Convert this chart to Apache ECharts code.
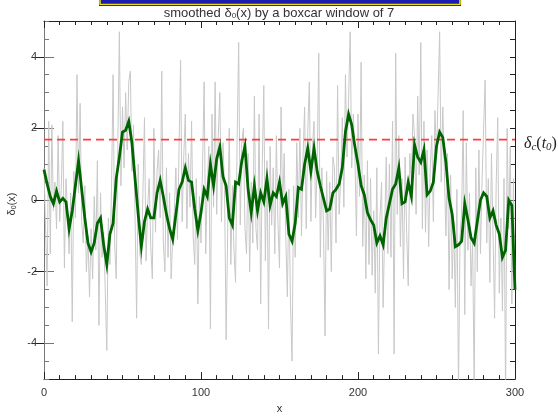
<!DOCTYPE html>
<html><head><meta charset="utf-8">
<script src="https://cdn.jsdelivr.net/npm/echarts@6/dist/echarts.min.js"></script>
<style>html,body{margin:0;padding:0;background:#fff}#c{width:558px;height:419px}</style>
</head><body><div id="c"></div>
<script>
// raw delta_0(x), x = 0..300
const rawY = [
 0.9,-0.8,-2.4,2.2,-1.5,2.1,-0.3,0.5,-0.8,1.8,
 -0.6,0.3,2.2,-1.9,0.6,-0.4,-1.5,0.2,-3.4,0.8,
 -0.5,3.5,0.2,2.7,-0.6,-1.2,0.4,-2.0,-1.0,-2.7,
 -0.8,-2.2,0.1,-1.4,1.1,-3.5,0.2,-1.6,-0.9,-2.5,
 -4.2,-0.5,-1.8,0.3,3.5,-1.2,-2.2,1.5,4.7,0.4,
 2.6,0.9,3.0,1.4,3.3,3.6,0.8,2.1,-0.5,-3.3,
 1.0,-1.5,-1.8,0.2,2.3,-1.7,-0.2,0.6,-1.3,-2.2,
 2.0,-0.9,0.8,1.4,-0.5,3.6,-1.2,-2.0,0.9,-1.6,
 0.2,-2.2,-1.0,-0.3,0.9,-1.1,1.4,3.9,-0.6,1.2,
 2.4,-0.8,1.3,-0.2,2.2,-1.0,-1.8,0.6,-2.9,0.1,
 -1.2,1.0,3.3,-1.5,0.4,1.5,-3.6,2.4,-0.2,3.3,
 -0.4,1.8,3.0,-0.6,1.6,0.3,-3.9,-0.9,2.0,-1.8,
 0.4,-1.4,-2.3,1.7,4.4,-0.7,1.6,2.0,-0.8,-1.5,
 1.3,-2.0,0.5,-1.2,2.9,-0.8,-1.4,2.4,-2.9,0.9,
 3.2,-1.7,1.1,-3.6,1.5,-0.7,0.9,-1.5,1.8,-0.6,
 -1.9,2.6,-0.2,1.3,-1.0,-2.7,0.3,-2.9,-4.5,0.4,
 -1.6,1.6,-0.5,2.0,-1.0,1.2,2.6,-0.8,1.9,3.3,
 -0.6,1.5,2.2,-0.5,1.0,4.1,-1.6,0.9,-0.7,-3.8,
 0.8,-1.4,0.5,-2.0,1.2,0.9,-1.2,3.2,-0.4,0.6,
 2.3,-0.2,3.5,1.2,2.8,4.7,0.9,2.4,1.3,-1.0,
 2.4,0.1,3.85,-1.3,0.7,-2.2,1.1,-1.8,0.6,-2.1,
 -0.3,-2.6,0.9,-4.3,-0.5,0.5,-3.0,-0.8,1.2,-1.5,
 1.0,-1.6,2.2,-4.3,4.1,-0.4,1.8,-1.3,0.6,-2.2,
 1.2,-0.9,-2.4,1.3,0.5,2.4,1.8,-0.4,2.9,0.7,
 4.4,-0.8,2.2,-0.9,1.4,-1.3,0.9,1.8,-0.6,2.5,
 1.2,2.9,4.7,0.5,2.6,0.8,-1.0,1.3,-2.5,0.7,
 -2.2,-0.6,-3.0,0.3,-5.4,-1.0,-0.4,2.5,-3.2,1.6,
 -1.4,0.2,-2.4,-1.1,-5.3,0.9,-2.0,1.4,-1.5,0.5,
 2.0,3.35,-1.2,0.6,-2.3,1.3,-0.9,-3.3,0.4,2.3,
 -2.6,-0.5,-3.1,0.6,-5.5,2.0,-0.8,1.5,-2.9,0.6,
 -2.5
];
// smoothed values, x = 0,2,4,...,300
const smoothY = [
 0.85,0.45,0.1,-0.1,0.25,-0.05,0.05,-0.05,-0.8,-0.3,
 0.4,1.1,0.3,-0.5,-1.2,-1.45,-1.2,-0.65,-0.5,-1.25,
 -1.8,-0.95,-0.65,0.6,1.2,1.9,1.95,2.2,1.6,0.6,
 -0.4,-1.3,-0.6,-0.25,-0.5,-0.5,0.2,0.55,0.1,-0.4,
 -0.8,-1.1,-0.4,0.3,0.5,0.9,0.55,0.5,-0.25,-0.85,
 -0.35,0.3,0.1,1.0,0.4,1.15,1.48,0.65,0.4,-0.5,
 -0.7,0.5,0.45,1.1,1.5,0.3,-0.35,0.4,-0.3,0.2,
 -0.05,0.6,-0.15,0.2,0.1,0.5,-0.1,0.1,-0.95,-1.15,
 -0.65,0.35,0.3,1.0,1.45,0.8,1.45,0.8,0.4,0.05,
 -0.3,-0.25,0.2,0.3,0.45,0.9,1.9,2.4,2.1,1.5,
 1.0,0.4,0.15,-0.35,-0.55,-0.7,-1.2,-1.0,-1.25,-0.5,
 -0.1,0.3,0.45,0.9,-0.1,-0.05,0.5,0.1,1.55,1.2,
 1.05,1.4,0.15,0.25,0.5,1.5,1.9,1.75,1.05,0.05,
 -0.4,-1.3,-1.25,-1.15,-0.1,-0.55,-1.05,-1.2,-0.6,0.0,
 0.2,0.1,-0.5,-0.3,-0.7,-0.95,-1.6,-1.4,0.0,-0.15,
 -2.5
];
const deltaC = 1.686;
const xRange = [0, 300];
const yMajorTicks = [-4, -2, 0, 2, 4];

const rawData = rawY.map((v, i) => [i, v]);
const smoothData = smoothY.map((v, i) => [i * 2, v]);
const thresholdData = xRange.map(x => [x, deltaC]);

const chart = echarts.init(document.getElementById('c'), null, {renderer: 'canvas'});
const FONT = 'Liberation Sans';
const axisCol = '#222';
function xAx(pos, showLabel) {
  return {
    type: 'value', min: 0, max: 300, interval: 100, position: pos,
    axisLine: {show: true, onZero: false, lineStyle: {color: axisCol, width: 1}},
    axisTick: {show: true, inside: true, length: 7, lineStyle: {color: axisCol}},
    minorTick: {show: true, splitNumber: 10, length: 4, lineStyle: {color: axisCol}},
    axisLabel: {show: showLabel, margin: 8, fontSize: 11, color: '#333', fontFamily: FONT},
    splitLine: {show: false}, minorSplitLine: {show: false},
    name: showLabel ? 'x' : '', nameLocation: 'middle', nameGap: 21,
    nameTextStyle: {fontSize: 11, color: '#333', fontFamily: FONT}
  };
}
function yMinor(pos, col) {
  return {
    type: 'value', min: -5, max: 5, interval: 0.5, position: pos,
    axisLine: {show: true, onZero: false, lineStyle: {color: col, width: 1}},
    axisTick: {show: true, inside: true, length: 5, lineStyle: {color: col}},
    axisLabel: {show: false}, splitLine: {show: false}
  };
}
function yMajor(pos, col, showLabel) {
  return {
    type: 'value', min: -5, max: 5, position: pos,
    axisLine: {show: false},
    axisTick: {show: true, inside: true, length: 10, customValues: yMajorTicks, lineStyle: {color: col}},
    axisLabel: {show: showLabel, customValues: yMajorTicks, margin: 7, fontSize: 11, color: '#333', fontFamily: FONT},
    splitLine: {show: false}
  };
}

chart.setOption({
  animation: false,
  backgroundColor: '#fff',
  grid: {left: 44, right: 43, top: 21, bottom: 32, containLabel: false},
  xAxis: [xAx('bottom', true), xAx('top', false)],
  yAxis: [yMinor('left', '#777'), yMajor('left', '#777', true), yMinor('right', axisCol), yMajor('right', axisCol, false)],
  series: [
    {
      type: 'line', data: rawData, xAxisIndex: 0, yAxisIndex: 0, symbol: 'none', z: 2,
      lineStyle: {color: '#c8c8c8', width: 1}, clip: true
    },
    {
      type: 'line', data: thresholdData, xAxisIndex: 0, yAxisIndex: 0, symbol: 'none', z: 3,
      color: '#ff3b3b',
      lineStyle: {color: '#ff3b3b', type: [8, 5], width: 1.6, opacity: 1}, itemStyle: {color: '#ff3b3b'}
    },
    {
      type: 'line', data: smoothData, xAxisIndex: 0, yAxisIndex: 0, symbol: 'none', z: 4,
      lineStyle: {color: '#006400', width: 2.8, join: 'miter'}, clip: true
    }
  ],
  graphic: [
    {type: 'rect', shape: {x: 99, y: -10, width: 362, height: 16}, style: {fill: '#000'}, silent: true},
    {type: 'rect', shape: {x: 100, y: -10, width: 360, height: 14.5}, style: {fill: '#1c1cb0', stroke: '#e8e000', lineWidth: 1.6}, silent: true},
    {type: 'text', x: 279, y: 13, silent: true, style: {
      text: 'smoothed δ{sub|0}(x) by a boxcar window of 7',
      align: 'center', verticalAlign: 'middle', fontSize: 13, fontFamily: FONT, fill: '#333',
      rich: {sub: {fontSize: 8, verticalAlign: 'bottom', fontFamily: FONT, fill: '#333', padding: [6, 0, 0, 0]}}
    }},
    {type: 'text', x: 12, y: 204, rotation: Math.PI / 2, silent: true, style: {
      text: 'δ{sub|0}(x)', align: 'center', verticalAlign: 'middle', fontSize: 11, fontFamily: FONT, fill: '#333',
      rich: {sub: {fontSize: 7, fontFamily: FONT, fill: '#333', padding: [5, 0, 0, 0]}}
    }},
    {type: 'text', x: 524, y: 144, silent: true, style: {
      text: '{i|δ}{s|c}{n|(}{i|t}{s|0}{n|)}', align: 'left', verticalAlign: 'middle',
      rich: {
        i: {fontSize: 16, fontStyle: 'italic', fontFamily: 'Liberation Serif', fill: '#222'},
        n: {fontSize: 16, fontFamily: 'Liberation Serif', fill: '#222'},
        s: {fontSize: 11, fontStyle: 'italic', fontFamily: 'Liberation Serif', fill: '#222', padding: [7, 0, 0, 0]}
      }
    }}
  ]
});
</script></body></html>
